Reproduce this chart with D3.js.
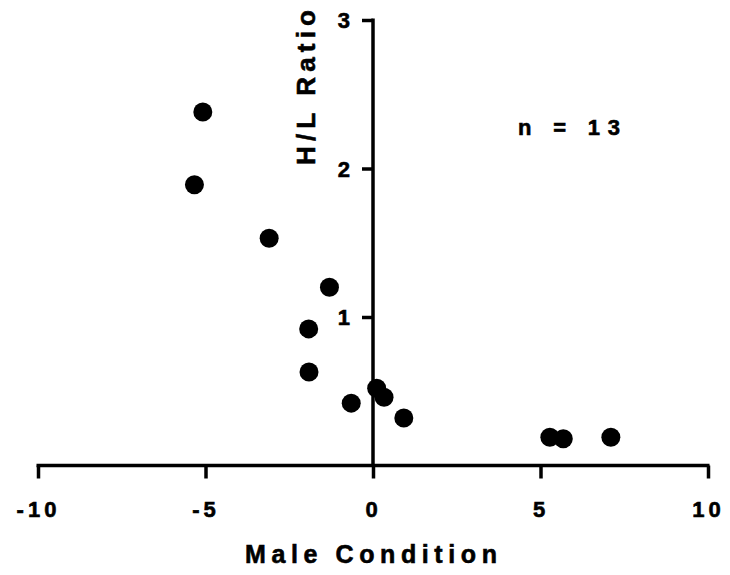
<!DOCTYPE html>
<html><head><meta charset="utf-8">
<script src="https://cdn.jsdelivr.net/npm/d3@7"></script>
<style>
html,body{margin:0;padding:0;background:#fff;}
svg text{font-family:"Liberation Sans",Arial,sans-serif;font-weight:bold;fill:#000;stroke:#000;stroke-width:0.6px;}
</style></head>
<body>
<svg id="chart" width="730" height="575"></svg>
<script>
const maleCondition = [-5.08, -5.33, -3.10, -1.30, -1.92, -1.91, -0.65, 0.11, 0.33, 0.92, 5.28, 5.68, 7.10];
const hlRatio       = [2.38, 1.89, 1.53, 1.20, 0.92, 0.63, 0.42, 0.52, 0.46, 0.32, 0.19, 0.18, 0.19];
const xTicks = [-10, -5, 0, 5, 10];
const yTicks = [1, 2, 3];
const xTitle = "Male Condition";
const yTitle = "H/L Ratio";
const note = "n = 13";

const svg = d3.select("#chart");
const x = d3.scaleLinear().domain([-10, 10]).range([38, 708]);
const y = d3.scaleLinear().domain([0, 3]).range([465.5, 20]);

// X axis
const gx = svg.append("g").attr("transform", `translate(0,${y(0)})`)
  .call(d3.axisBottom(x).tickValues(xTicks).tickSize(13).tickSizeOuter(0).tickFormat(d3.format("d")));
gx.attr("font-size", null).attr("font-family", null);
gx.select(".domain").attr("stroke", "#000").attr("stroke-width", 3.5).attr("d", `M${x(-10)-1.5},0H${x(10)+1.5}`);
gx.selectAll(".tick line").attr("stroke", "#000").attr("stroke-width", 3.5);
gx.selectAll(".tick text").attr("y", 51.5).attr("dy", null)
  .attr("font-size", 22).style("letter-spacing", "4px").attr("dx", "0px")
  .text(d => d3.format("d")(d).replace("−", "-"));

// Y axis
const gy = svg.append("g").attr("transform", `translate(${x(0)},0)`)
  .call(d3.axisLeft(y).tickValues(yTicks).tickSize(11).tickSizeOuter(0).tickFormat(d3.format("d")));
gy.attr("font-size", null).attr("font-family", null);
gy.select(".domain").attr("stroke", "#000").attr("stroke-width", 3.5).attr("d", `M0,${y(3)-1.5}V${y(0)}`);
gy.selectAll(".tick line").attr("stroke", "#000").attr("stroke-width", 3.5);
gy.selectAll(".tick text").attr("x", -23).attr("dy", "0.36em").attr("font-size", 22);

// Points
svg.append("g").selectAll("circle")
  .data(maleCondition.map((d, i) => ({x: d, y: hlRatio[i]})))
  .join("circle")
  .attr("cx", d => x(d.x)).attr("cy", d => y(d.y)).attr("r", 9.5).attr("fill", "#000");

// Titles
svg.append("text").attr("x", 245).attr("y", 563).attr("font-size", 25)
  .attr("textLength", 252).attr("lengthAdjust", "spacing").text(xTitle);
svg.append("text").attr("transform", "translate(315,165) rotate(-90)").attr("font-size", 26)
  .attr("textLength", 155).attr("lengthAdjust", "spacing").text(yTitle);
svg.append("text").attr("x", 518).attr("y", 135).attr("font-size", 22)
  .attr("textLength", 102).attr("lengthAdjust", "spacing").text(note);
</script>
</body></html>
